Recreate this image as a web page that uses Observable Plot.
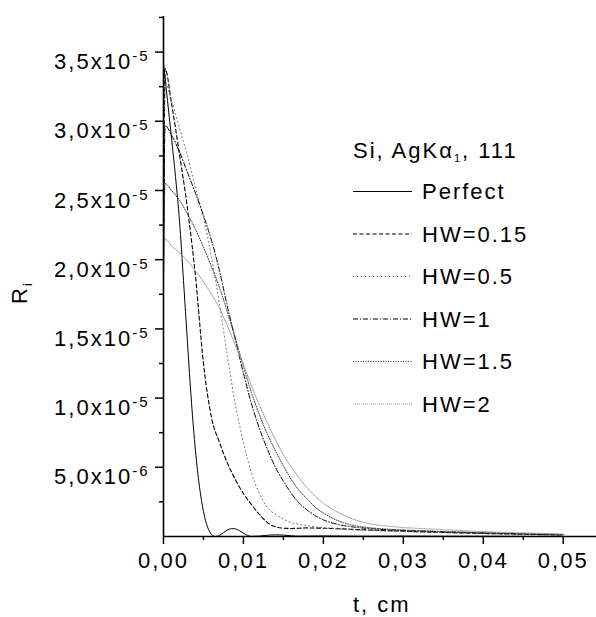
<!DOCTYPE html>
<html><head><meta charset="utf-8">
<script src="https://cdn.jsdelivr.net/npm/d3@7"></script>
<script src="https://cdn.jsdelivr.net/npm/@observablehq/plot@0.6"></script>
<style>
body{margin:0;background:#fff;}
#chart{position:relative;width:596px;height:617px;}
#chart svg{font-family:"Liberation Sans",Arial,sans-serif;}
</style></head><body><div id="chart"></div>
<script>
// ---- data (R in units of 1e-5, t in cm) ----
const seriesNames = ["Perfect","HW=0.15","HW=0.5","HW=1","HW=1.5","HW=2"];
const legendTitle = "Si, AgKα";
const legendTitleSub = "1";
const legendTitleEnd = ", 111";
const xLabel = "t, cm";
const yLabel = "R";
const yLabelSub = "i";

const tPerfect = [0,0.0005,0.001,0.0015,0.002,0.0025,0.003,0.0035,0.004,0.0045,0.005,0.0055,0.006,0.0065,0.007,0.0075,0.008,0.0085,0.009,0.0095,0.01,0.0105,0.011,0.012,0.013,0.014,0.015,0.016,0.017,0.018,0.02,0.025,0.03,0.035,0.04,0.045,0.05];
const rPerfect = [3.42,3.15,2.88,2.6,2.28,1.85,1.4,0.97,0.62,0.36,0.18,0.07,0.015,0,0.008,0.028,0.047,0.057,0.055,0.042,0.024,0.008,0.001,0.003,0.009,0.012,0.01,0.005,0.002,0.003,0.004,0.002,0.003,0.002,0.002,0.001,0.001];

const tHW = [0,0.0002,0.001,0.002,0.003,0.004,0.005,0.006,0.007,0.008,0.009,0.01,0.011,0.012,0.013,0.014,0.015,0.016,0.017,0.018,0.019,0.02,0.022,0.024,0.026,0.028,0.03,0.035,0.04,0.045,0.05];
const rHW015 = [1.9,3.38,3.13,2.76,2.37,1.88,1.25,0.86,0.68,0.53,0.41,0.31,0.23,0.16,0.10,0.07,0.06,0.058,0.06,0.062,0.061,0.06,0.056,0.051,0.046,0.042,0.038,0.029,0.022,0.016,0.011];
const rHW05  = [1.9,3.28,3.15,2.95,2.75,2.52,2.30,2.02,1.68,1.30,0.95,0.68,0.46,0.31,0.21,0.16,0.125,0.10,0.088,0.078,0.07,0.064,0.055,0.048,0.043,0.04,0.036,0.029,0.022,0.016,0.011];
const rHW1   = [1.9,2.97,2.90,2.78,2.63,2.48,2.32,2.14,1.92,1.66,1.42,1.18,0.96,0.78,0.63,0.50,0.40,0.31,0.24,0.19,0.15,0.12,0.085,0.067,0.056,0.049,0.044,0.034,0.026,0.019,0.013];
const rHW15  = [1.9,2.55,2.50,2.43,2.33,2.22,2.09,1.95,1.80,1.62,1.43,1.23,1.04,0.88,0.74,0.62,0.51,0.41,0.33,0.27,0.21,0.17,0.11,0.078,0.062,0.053,0.047,0.036,0.027,0.02,0.014];
const rHW2   = [1.9,2.15,2.10,2.05,1.99,1.92,1.84,1.75,1.65,1.52,1.38,1.24,1.09,0.95,0.82,0.70,0.59,0.50,0.42,0.35,0.29,0.24,0.17,0.12,0.09,0.075,0.065,0.05,0.036,0.026,0.018];

const yTicks = [0.5,1,1.5,2,2.5,3,3.5];
const yTickLabels = ["5,0x10^-6","1,0x10^-5","1,5x10^-5","2,0x10^-5","2,5x10^-5","3,0x10^-5","3,5x10^-5"];
const yMinor = [0.25,0.75,1.25,1.75,2.25,2.75,3.25,3.75];
const xTicks = [0,0.01,0.02,0.03,0.04,0.05];
const xTickLabels = ["0,00","0,01","0,02","0,03","0,04","0,05"];
const xMinor = [0.005,0.015,0.025,0.035,0.045];

// ---- build ----
const tArrs = [tPerfect,tHW,tHW,tHW,tHW,tHW];
const rArrs = [rPerfect,rHW015,rHW05,rHW1,rHW15,rHW2];
const styles = [
  {stroke:"#000", dash:"none", width:1},
  {stroke:"#000", dash:"4,2.5", width:1.1},
  {stroke:"#666", dash:"1,3", width:1},
  {stroke:"#000", dash:"5,2,1,2", width:1},
  {stroke:"#333", dash:"1,1.5", width:1},
  {stroke:"#999", dash:"1,1", width:1}
];
const series = seriesNames.map((name,i)=>tArrs[i].map((t,j)=>({t, r:rArrs[i][j], name})));

const W = 596, H = 617;
const plot = Plot.plot({
  width: W, height: H,
  marginLeft: 163, marginRight: 0, marginTop: 16, marginBottom: 81,
  style: {fontFamily:"Liberation Sans, Arial, sans-serif", fontSize:"22px", letterSpacing:"2px", color:"#000", background:"#fff"},
  x: {domain:[0,0.05416], label:null},
  y: {domain:[0,3.757], label:null},
  marks: [
    ...series.map((d,i)=>Plot.line(d,{x:"t", y:"r", stroke:styles[i].stroke, strokeDasharray:styles[i].dash, strokeWidth:styles[i].width, curve:"monotone-x"})),
    Plot.axisY({ticks:yMinor, tickSize:4, tickFormat:()=>"", label:null, strokeWidth:1.5}),
    Plot.axisY({ticks:yTicks, tickSize:8, tickPadding:6, tickFormat:d=>yTickLabels[yTicks.indexOf(d)], label:null, strokeWidth:1.5, fontSize:22}),
    Plot.axisX({ticks:xMinor, tickSize:4, tickFormat:()=>"", label:null, strokeWidth:1.5}),
    Plot.axisX({ticks:xTicks, tickSize:8, tickPadding:8, tickFormat:d=>xTickLabels[xTicks.indexOf(d)], label:null, strokeWidth:1.5, fontSize:22}),
    Plot.ruleX([0],{strokeWidth:1.6}),
    Plot.ruleY([0],{strokeWidth:1.6})
  ]
});
document.getElementById("chart").appendChild(plot);
const svg = d3.select(plot);

// superscripts in y tick labels
svg.selectAll('g[aria-label="y-axis tick label"] text').each(function(){
  const s = this.textContent;
  if (!s.includes("^")) return;
  const [base, exp] = s.split("^");
  this.textContent = base;
  d3.select(this).attr("dy", "10");
  d3.select(this).append("tspan").attr("dy", -8).attr("font-size", "15px").text(exp);
});

// axis titles
svg.append("text").attr("x", 353).attr("y", 612).attr("text-anchor", "start").attr("font-size", 22).attr("fill", "#000").text(xLabel);
const yl = svg.append("text").attr("transform", "translate(27,304) rotate(-90)").attr("text-anchor", "start").attr("font-size", 22).attr("fill", "#000");
yl.append("tspan").text(yLabel);
yl.append("tspan").attr("dy", 5).attr("font-size", 13).text(yLabelSub);

// legend
const lg = svg.append("g").attr("fill", "#000").attr("text-anchor", "start");
const tt = lg.append("text").attr("x", 353).attr("y", 158).attr("font-size", 22);
tt.append("tspan").text(legendTitle);
tt.append("tspan").attr("dy", 4).attr("font-size", 11).text(legendTitleSub);
tt.append("tspan").attr("dy", -4).attr("font-size", 22).text(legendTitleEnd);
seriesNames.forEach((n,i)=>{
  const y = 199 + i*42.5;
  lg.append("line").attr("x1", 353).attr("x2", 412).attr("y1", y-7.5).attr("y2", y-7.5)
    .attr("stroke", styles[i].stroke).attr("stroke-dasharray", styles[i].dash).attr("stroke-width", styles[i].width);
  lg.append("text").attr("x", 422).attr("y", y).attr("font-size", 22).text(n);
});
</script></body></html>
